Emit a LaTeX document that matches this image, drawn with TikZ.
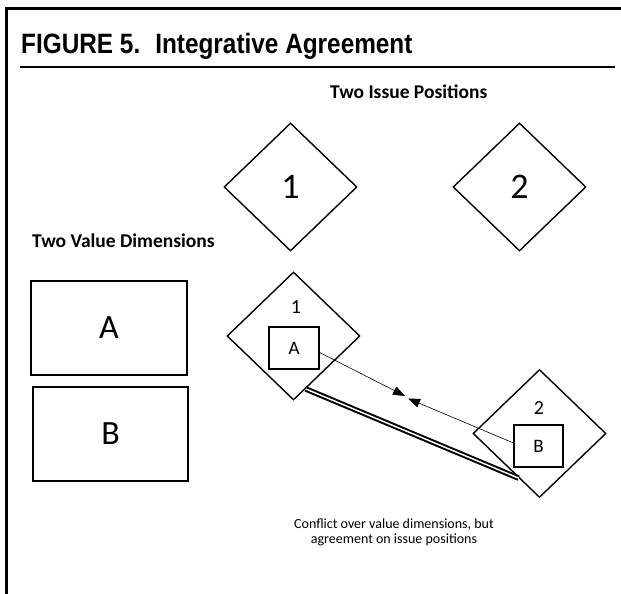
\documentclass[tikz,border=0pt]{standalone}
\usepackage{fontspec}
\setmainfont{Carlito}
\newfontfamily\headfont[FakeStretch=0.87]{Liberation Sans}
\usetikzlibrary{shapes.geometric,arrows.meta}

\begin{document}
\begin{tikzpicture}[x=1pt, y=-1pt,
	issue/.style={draw, diamond, line width=1.4pt, inner sep=0pt, minimum width=133pt, minimum height=128pt},
	valuebox/.style={draw, line width=1.4pt, inner sep=0pt},
	meet/.style={-{Triangle[length=12pt, width=9pt]}, line width=0.6pt}]
	\useasboundingbox (0,0) rectangle (621,594);
	\draw[line width=3pt] (6,594) -- (6,9) -- (621,9);
	\draw[line width=2pt] (20,67) -- (615,67);
	\node[anchor=base west, inner sep=0pt, font=\headfont\bfseries\fontsize{28}{32}\selectfont] (title) at (21,53) {FIGURE 5.\hspace{15pt}Integrative Agreement};
	\node[anchor=base west, inner sep=0pt, font=\bfseries\fontsize{19.5}{22}\selectfont] (issues) at (330,98) {Two Issue Positions};
	\node[anchor=base west, inner sep=0pt, font=\bfseries\fontsize{19.5}{22}\selectfont] (values) at (32,247) {Two Value Dimensions};
	% issue positions
	\node[issue, font=\fontsize{36}{40}\selectfont] (d1) at (290.5,187) {1};
	\node[issue, font=\fontsize{36}{40}\selectfont] (d2) at (519.5,187) {2};
	% value dimensions
	\node[valuebox, minimum width=156pt, minimum height=94pt, font=\fontsize{34}{38}\selectfont] (va) at (109,328) {A};
	\node[valuebox, minimum width=155pt, minimum height=94pt, font=\fontsize{34}{38}\selectfont] (vb) at (110.5,434) {B};
	% positions with their values
	\node[issue] (d1l) at (293.5,336) {};
	\node[issue] (d2l) at (539.5,433.5) {};
	\node[anchor=base, inner sep=0pt, font=\fontsize{20}{22}\selectfont] (n1) at (296,313) {1};
	\node[anchor=base, inner sep=0pt, font=\fontsize{20}{22}\selectfont] (n2) at (539,414) {2};
	\node[valuebox, minimum width=50pt, minimum height=42pt, font=\fontsize{19}{21}\selectfont] (sa) at (294,348) {A};
	\node[valuebox, minimum width=49pt, minimum height=42pt, font=\fontsize{19}{21}\selectfont] (sb) at (538.5,446) {B};
	\coordinate (tipa) at (405,396);
	\coordinate (tipb) at (408,398.5);
	\draw[meet] (sa.-10) -- (tipa);
	\draw[meet] (sb.173) -- (tipb);
	\draw[double, double distance=1.5pt, line width=2pt] (d1l.-77) -- (d2l.-115);
	\node[align=center, inner sep=0pt, font=\fontsize{14}{15}\selectfont] (note) at (394,532) {Conflict over value dimensions, but\\agreement on issue positions};
\end{tikzpicture}
\end{document}
